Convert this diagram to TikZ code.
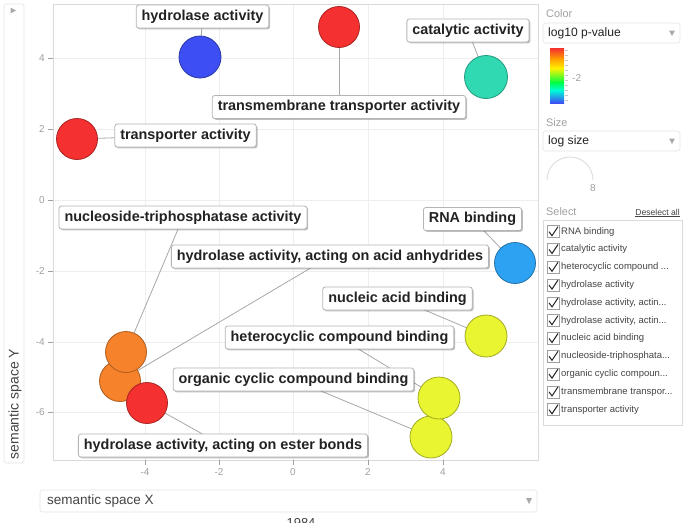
\documentclass[tikz,border=0pt]{standalone}
\usepackage{fontspec}
\setmainfont{Liberation Sans}
\usepackage{tikz}
\usetikzlibrary{shadows, calc}

\definecolor{gridgray}{HTML}{EEEEEE}
\definecolor{framegray}{HTML}{DADADA}
\definecolor{boxgray}{HTML}{B4B4B4}
\definecolor{linkgray}{HTML}{A8A8A8}
\definecolor{tickgray}{HTML}{A0A0A0}
\definecolor{labeltext}{HTML}{222222}
\definecolor{paneltext}{HTML}{444444}
\definecolor{pred}{HTML}{F43030}
\definecolor{pblue}{HTML}{3D4EF2}
\definecolor{pteal}{HTML}{30D9B2}
\definecolor{psky}{HTML}{2EA2F2}
\definecolor{pyellow}{HTML}{E8F530}
\definecolor{porange}{HTML}{F6832C}

\newcommand{\trunc}{...}

\pgfdeclarelayer{bg}
\pgfdeclarelayer{links}
\pgfsetlayers{bg,links,main}

\begin{document}
\begin{tikzpicture}[x=1pt, y=-1pt,
  term/.style={draw=boxgray, fill=white, rounded corners=2.5pt, line width=0.8pt,
    font=\fontsize{14.4}{16}\selectfont\bfseries, text=labeltext,
    inner xsep=5.5pt, inner ysep=4.25pt, text height=11pt, text depth=3.5pt,
    drop shadow={shadow xshift=1.3pt, shadow yshift=-1.3pt, opacity=0.25, fill=black}},
  dot/.style 2 args={circle, inner sep=0pt, minimum size=#2, fill=#1, draw=#1!70!black, line width=0.8pt},
  link/.style={draw=linkgray, line width=0.8pt},
  ticklbl/.style={font=\fontsize{10}{12}\selectfont, text=tickgray, inner sep=1pt},
  panel/.style={draw=framegray!70, fill=white, rounded corners=2.5pt, line width=0.6pt},
  caption/.style={font=\fontsize{10.9}{13}\selectfont, text=tickgray, anchor=west, inner sep=0pt},
  choice/.style={font=\fontsize{12.1}{14}\selectfont, text=labeltext, anchor=west, inner sep=0pt},
  entry/.style={font=\fontsize{9.5}{11}\selectfont, text=paneltext, anchor=west, inner sep=0pt},
  arrowtri/.style={fill=tickgray!90}]

  \useasboundingbox (0,0) rectangle (684,522);

  \begin{pgfonlayer}{bg}
    \fill[white] (0,0) rectangle (684,522);
    % grid of the plot
    \foreach \px in {145,219,293,368,443}
      \draw[gridgray, line width=0.8pt] (\px,4) -- (\px,460);
    \foreach \py in {58,129,200,271,342,412}
      \draw[gridgray, line width=0.8pt] (53,\py) -- (538,\py);
    \draw[framegray, line width=0.8pt] (53,4) rectangle (538,460);
  \end{pgfonlayer}

  % axis ticks
  \foreach \v/\px in {-4/145,-2/219,0/293,2/368,4/443} {
    \draw[tickgray, line width=0.6pt] (\px,460) -- (\px,465);
    \node[ticklbl] at (\px,472) {\v};
  }
  \foreach \v/\py in {4/58,2/129,0/200,-2/271,-4/342,-6/412} {
    \draw[tickgray, line width=0.6pt] (48,\py) -- (53,\py);
    \node[ticklbl, anchor=east] at (46,\py) {\v};
  }

  % axis panels
  \draw[panel] (4,4) rectangle (24,463);
  \fill[arrowtri] (10.5,7.5) -- (16,10.5) -- (10.5,13.5) -- cycle;
  \node[font=\fontsize{14}{16}\selectfont, text=paneltext, rotate=90, inner sep=0pt] (ylab) at (15,404) {semantic space Y};
  \draw[panel] (40,490) rectangle (537,512);
  \node[font=\fontsize{13.5}{16}\selectfont, text=paneltext, anchor=west, inner sep=0pt] (xlab) at (47,501) {semantic space X};
  \fill[arrowtri] (526,498) -- (532,498) -- (529,504) -- cycle;
  \node[font=\fontsize{13}{15}\selectfont, text=paneltext, anchor=base, inner sep=0pt] (yr) at (301,527) {1984};

  % terms
  \node[dot={pred}{41}] (cTM) at (339,27) {};
  \node[dot={pblue}{42}] (cHA) at (200,57) {};
  \node[dot={pteal}{43}] (cCA) at (486,77) {};
  \node[dot={pred}{41}] (cTA) at (77,139) {};
  \node[dot={psky}{41}] (cRNA) at (515,263) {};
  \node[dot={pyellow}{42}] (cNA) at (486,336) {};
  \node[dot={pyellow}{42}] (cOC) at (431,437) {};
  \node[dot={pyellow}{42}] (cHC) at (439,398) {};
  \node[dot={porange}{41}] (cAA) at (120,381) {};
  \node[dot={porange}{41}] (cNT) at (126,352) {};
  \node[dot={pred}{41}] (cEB) at (147,403) {};

  \node[term] (lHA) at (202.5,16.5) {hydrolase activity};
  \node[term] (lCA) at (468,30.5) {catalytic activity};
  \node[term] (lTM) at (339,107) {transmembrane transporter activity};
  \node[term] (lTA) at (185.5,135.5) {transporter activity};
  \node[term] (lNT) at (183,217.5) {nucleoside-triphosphatase activity};
  \node[term] (lRNA) at (472.5,219) {RNA binding};
  \node[term] (lAA) at (330,256.5) {hydrolase activity, acting on acid anhydrides};
  \node[term] (lNA) at (397.5,298.5) {nucleic acid binding};
  \node[term] (lHC) at (339.5,337.5) {heterocyclic compound binding};
  \node[term] (lOC) at (293.5,379.5) {organic cyclic compound binding};
  \node[term] (lEB) at (223,445.5) {hydrolase activity, acting on ester bonds};

  \begin{pgfonlayer}{links}
    \foreach \t in {HA,CA,TM,TA,NT,RNA,AA,NA,HC,OC,EB}
      \draw[link] (l\t.center) -- (c\t.center);
  \end{pgfonlayer}

  % legend
  \node[caption] (colcap) at (546,14) {Color};
  \draw[panel] (543,23) rectangle (680,43);
  \node[choice] (colsel) at (548,33) {log10 p-value};
  \fill[arrowtri] (669,30.5) -- (675,30.5) -- (672,36) -- cycle;

  \shade[top color=pred, bottom color=orange!80!yellow] (550,48) rectangle (564,58.5);
  \shade[top color=orange!80!yellow, bottom color=yellow!90!orange] (550,58) rectangle (564,68.5);
  \shade[top color=yellow!90!orange, bottom color=green!75!cyan] (550,68) rectangle (564,82.5);
  \shade[top color=green!75!cyan, bottom color=cyan!85!green] (550,82) rectangle (564,90.5);
  \shade[top color=cyan!85!green, bottom color=pblue] (550,90) rectangle (564,103);
  \foreach \py in {50,55,...,100}
    \draw[tickgray!60, line width=0.4pt] (565,\py) -- (567.5,\py);
  \node[ticklbl, anchor=west] (cbmid) at (571,78) {-2};

  \node[caption] (sizecap) at (546,123) {Size};
  \draw[panel] (543,131) rectangle (680,151);
  \node[choice] (sizesel) at (548,141) {log size};
  \fill[arrowtri] (669,138.5) -- (675,138.5) -- (672,144) -- cycle;
  \draw[framegray, line width=0.8pt] (547,180) arc[start angle=180, end angle=0, radius=23pt];
  \node[ticklbl] (sizeval) at (593,188) {8};

  \node[caption] (selcap) at (546,212) {Select};
  \node[font=\fontsize{8.6}{10}\selectfont, text=paneltext, anchor=east, inner sep=0pt] (desel) at (680,213) {\underline{Deselect all}};
  \draw[framegray, fill=white, line width=0.6pt] (543,220) rectangle (682,425);
  \foreach \lbl [count=\i from 0] in {RNA binding, catalytic activity, heterocyclic compound \trunc, hydrolase activity,
      {hydrolase activity, actin\trunc}, {hydrolase activity, actin\trunc}, nucleic acid binding,
      nucleoside-triphosphata\trunc, organic cyclic compoun\trunc, transmembrane transpor\trunc, transporter activity} {
    \pgfmathsetmacro{\iy}{231.7+17.8*\i}
    \draw[tickgray, fill=white, line width=0.6pt] (547,\iy-6) rectangle (559,\iy+6);
    \draw[labeltext, line width=1pt] (549,\iy) -- (552,\iy+4) -- (558,\iy-5);
    \node[entry] at (561,\iy) {\lbl};
  }

\end{tikzpicture}
\end{document}
